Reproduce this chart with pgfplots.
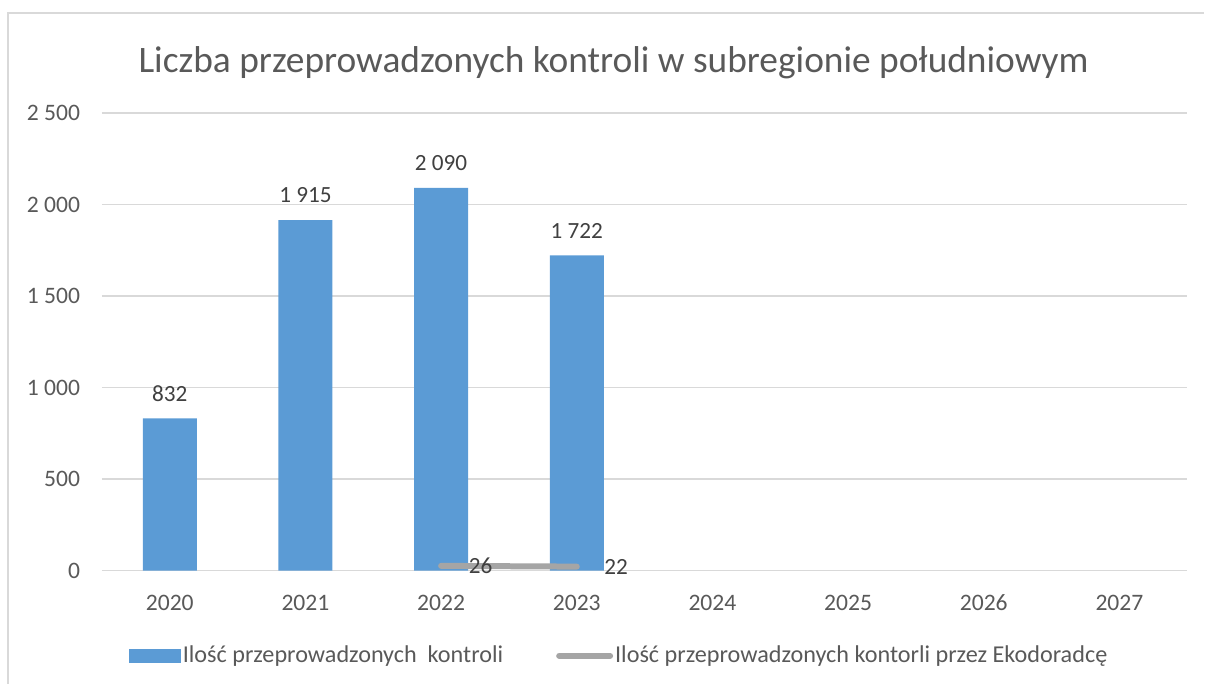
\documentclass[border=0pt]{standalone}
\usepackage{pgfplots}
\pgfplotsset{compat=1.18}
\usepackage{fontspec}
\setmainfont{Carlito}
\usetikzlibrary{calc}
\definecolor{barblue}{HTML}{5B9BD5}
\definecolor{linegrey}{HTML}{A5A5A5}
\definecolor{txt}{HTML}{595959}
\definecolor{lbl}{HTML}{404040}
\definecolor{gridc}{HTML}{D9D9D9}

\begin{document}
\begin{tikzpicture}
\begin{axis}[
    name=ax,
    scale only axis,
    width=543pt, height=229pt,
    xmin=-0.5, xmax=7.5,
    ymin=0, ymax=2500,
    ytick={0,500,...,2500},
    xtick={0,...,7},
    xticklabels={2020,2021,2022,2023,2024,2025,2026,2027},
    axis line style={draw=none},
    major tick length=0pt,
    ymajorgrids,
    grid style={gridc, line width=0.8pt},
    tick label style={font=\fontsize{11.8}{13}\selectfont, text=txt},
    xticklabel style={yshift=-8.6pt},
    yticklabel style={xshift=-7.4pt},
    /pgf/number format/1000 sep={\ },
    /pgf/number format/assume math mode=true,
    legend columns=2,
    legend cell align=left,
    legend style={
        at={(axis description cs:0.4765,-0.186)}, anchor=center,
        draw=none, fill=none,
        font=\fontsize{12.1}{14}\selectfont, text=txt,
        /tikz/every even column/.append style={column sep=25.5pt},
        nodes={inner sep=1pt},
    },
    clip=false,
]
\addplot[ybar, bar width=27pt, fill=barblue, draw=none,
    nodes near coords,
    nodes near coords style={font=\fontsize{11.6}{13}\selectfont, text=lbl, yshift=5pt},
    legend image code/.code={\fill[barblue] (0pt,-3.5pt) rectangle (26pt,3.5pt);}]
    coordinates {(0,832) (1,1915) (2,2090) (3,1722)};
\addlegendentry{Ilość przeprowadzonych\ \ kontroli}
\addplot[linegrey, line width=3pt, line cap=round, mark=none,
    nodes near coords,
    nodes near coords style={font=\fontsize{11.6}{13}\selectfont, text=lbl, anchor=west, xshift=9pt},
    legend image code/.code={\draw[linegrey, line width=3pt, line cap=round] (1.5pt,0pt) -- (27pt,0pt);}]
    coordinates {(2,26) (3,22)};
\addlegendentry{Ilość przeprowadzonych kontorli przez Ekodoradcę}
\end{axis}
\node[font=\fontsize{18.7}{22}\selectfont, text=txt] at ($(ax.north west)+(256pt,25pt)$)
    {Liczba przeprowadzonych kontroli w subregionie południowym};
\draw[gridc, line width=0.75pt] ($(ax.south west)+(-47pt,-56.5pt)$) -- ($(ax.north west)+(-47pt,50pt)$) -- ($(ax.north east)+(8.5pt,50pt)$);
\path ($(ax.south west)+(-51pt,-56.5pt)$) rectangle ($(ax.north east)+(8.5pt,56.5pt)$);
\end{tikzpicture}
\end{document}
